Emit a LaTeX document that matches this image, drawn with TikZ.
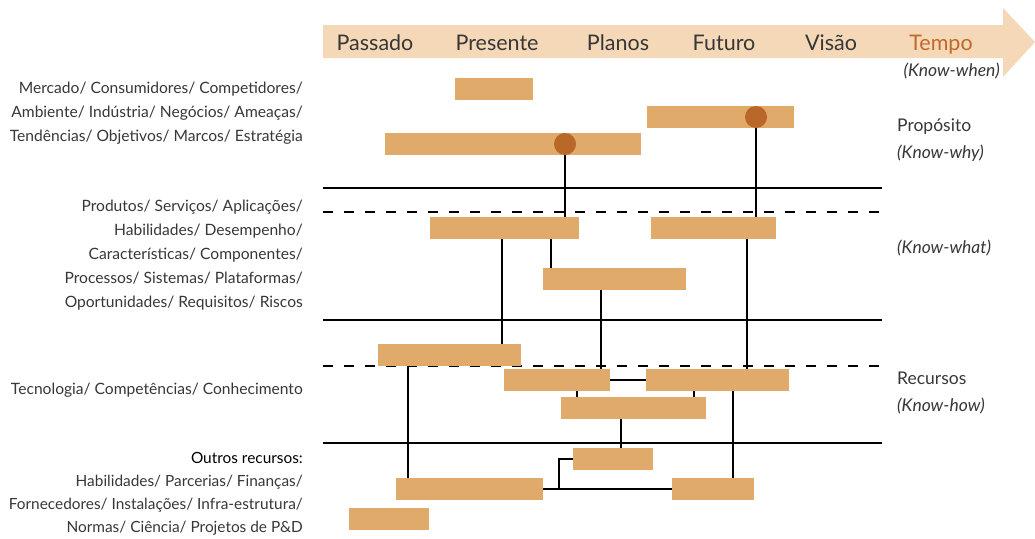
\documentclass[tikz,border=0pt]{standalone}
\usepackage{fontspec}
\setmainfont{Lato}
\usepackage{tikz}

\definecolor{barcol}{RGB}{223,170,106}
\definecolor{dotcol}{RGB}{186,104,42}
\definecolor{bandcol}{RGB}{245,216,184}
\definecolor{tempocol}{RGB}{192,105,42}
\definecolor{txtcol}{RGB}{55,55,55}

\begin{document}
\begin{tikzpicture}[x=1pt,y=-1pt,
	bar/.style={fill=barcol,draw=none,inner sep=0pt,minimum height=22pt},
	dot/.style={circle,fill=dotcol,draw=none,inner sep=0pt,minimum size=22pt},
	sep/.style={line width=1.6pt},
	link/.style={line width=1.5pt},
	when/.style={font=\fontsize{21.5}{24}\selectfont,text=txtcol,anchor=base},
	side/.style={font=\fontsize{15.6}{24}\selectfont,text=txtcol,align=right,anchor=east,inner sep=0pt},
	know/.style={font=\fontsize{17.5}{27}\selectfont,text=txtcol,align=left,anchor=west,inner sep=0pt}]
	\useasboundingbox (0,0) rectangle (1035,538);
	% time band
	\fill[bandcol] (323,25) -- (1003,25) -- (1003,8) -- (1035,42) -- (1003,77) -- (1003,58) -- (323,58) -- cycle;
	\node[when] (past) at (375,50) {Passado};
	\node[when] (pres) at (497,50) {Presente};
	\node[when] (plan) at (618,50) {Planos};
	\node[when] (fut) at (724,50) {Futuro};
	\node[when] (vis) at (831,50) {Visão};
	\node[when,text=tempocol] (tempo) at (941,50) {Tempo};
	\node[font=\fontsize{17.5}{20}\selectfont\itshape,text=txtcol,anchor=east,inner sep=0pt] (kwhen) at (1000,71) {(Know-when)};
	% layer separators
	\draw[sep] (323,188) -- (882,188);
	\draw[sep] (323,320) -- (882,320);
	\draw[sep] (323,443) -- (882,443);
	\draw[sep,dash pattern=on 10pt off 11pt] (323,212) -- (882,212);
	\draw[sep,dash pattern=on 10pt off 11pt] (323,366) -- (882,366);
	% bars
	\node[bar,minimum width=78pt] (b1) at (494,89) {};
	\node[bar,minimum width=147pt] (b2) at (720.5,117) {};
	\node[bar,minimum width=256pt] (b3) at (513,144) {};
	\node[bar,minimum width=149pt] (b4) at (504.5,228) {};
	\node[bar,minimum width=125pt] (b5) at (713.5,228) {};
	\node[bar,minimum width=143pt] (b6) at (614.5,279) {};
	\node[bar,minimum width=143pt] (b7) at (449.5,355) {};
	\node[bar,minimum width=106pt] (b8) at (557,380) {};
	\node[bar,minimum width=143pt] (b9) at (717.5,380) {};
	\node[bar,minimum width=145pt] (b10) at (633.5,408) {};
	\node[bar,minimum width=80pt] (b11) at (613,459) {};
	\node[bar,minimum width=147pt] (b12) at (469.5,489) {};
	\node[bar,minimum width=82pt] (b13) at (713,489) {};
	\node[bar,minimum width=80pt] (b14) at (389,519) {};
	\node[dot] (d1) at (565,144) {};
	\node[dot] (d2) at (756,117) {};
	% links
	\draw[link] (d1.south) -- (d1 |- b4.north);
	\draw[link] (d2.south) -- (d2 |- b5.north);
	\draw[link] (b4.south -| 502,0) -- (b7.north -| 502,0);
	\draw[link] (b4.south -| 551,0) -- (b6.north -| 551,0);
	\draw[link] (b6.south -| 601,0) -- (b8.north -| 601,0);
	\draw[link] (b5.south -| 747,0) -- (b9.north -| 747,0);
	\draw[link] (b8.east) -- (b9.west);
	\draw[link] (b8.south -| 577,0) -- (b10.north -| 577,0);
	\draw[link] (b9.south -| 694,0) -- (b10.north -| 694,0);
	\draw[link] (b10.south -| 621,0) -- (b11.north -| 621,0);
	\draw[link] (b7.south -| 408,0) -- (b12.north -| 408,0);
	\draw[link] (b9.south -| 733,0) -- (b13.north -| 733,0);
	\draw[link] (b12.east) -- (b13.west);
	\draw[link] (b12.east -| 559,0) |- (b11.west);
	% left labels
	\node[side] (mkt) at (303,113) {Mercado/ Consumidores/ Competidores/\\Ambiente/ Indústria/ Negócios/ Ameaças/\\Tendências/ Objetivos/ Marcos/ Estratégia};
	\node[side] (prod) at (303,255) {Produtos/ Serviços/ Aplicações/\\Habilidades/ Desempenho/\\Características/ Componentes/\\Processos/ Sistemas/ Plataformas/\\Oportunidades/ Requisitos/ Riscos};
	\node[side] (tec) at (303,390) {Tecnologia/ Competências/ Conhecimento};
	\node[side,font=\fontsize{15.4}{23}\selectfont] (outros) at (303,494) {\textcolor{black}{Outros recursos:}\\Habilidades/ Parcerias/ Finanças/\\Fornecedores/ Instalações/ Infra-estrutura/\\Normas/ Ciência/ Projetos de P\&D};
	% right labels
	\node[know] (why) at (897,140) {Propósito\\\textit{(Know-why)}};
	\node[know] (what) at (897,248) {\textit{(Know-what)}};
	\node[know] (how) at (897,393) {Recursos\\\textit{(Know-how)}};
\end{tikzpicture}
\end{document}
